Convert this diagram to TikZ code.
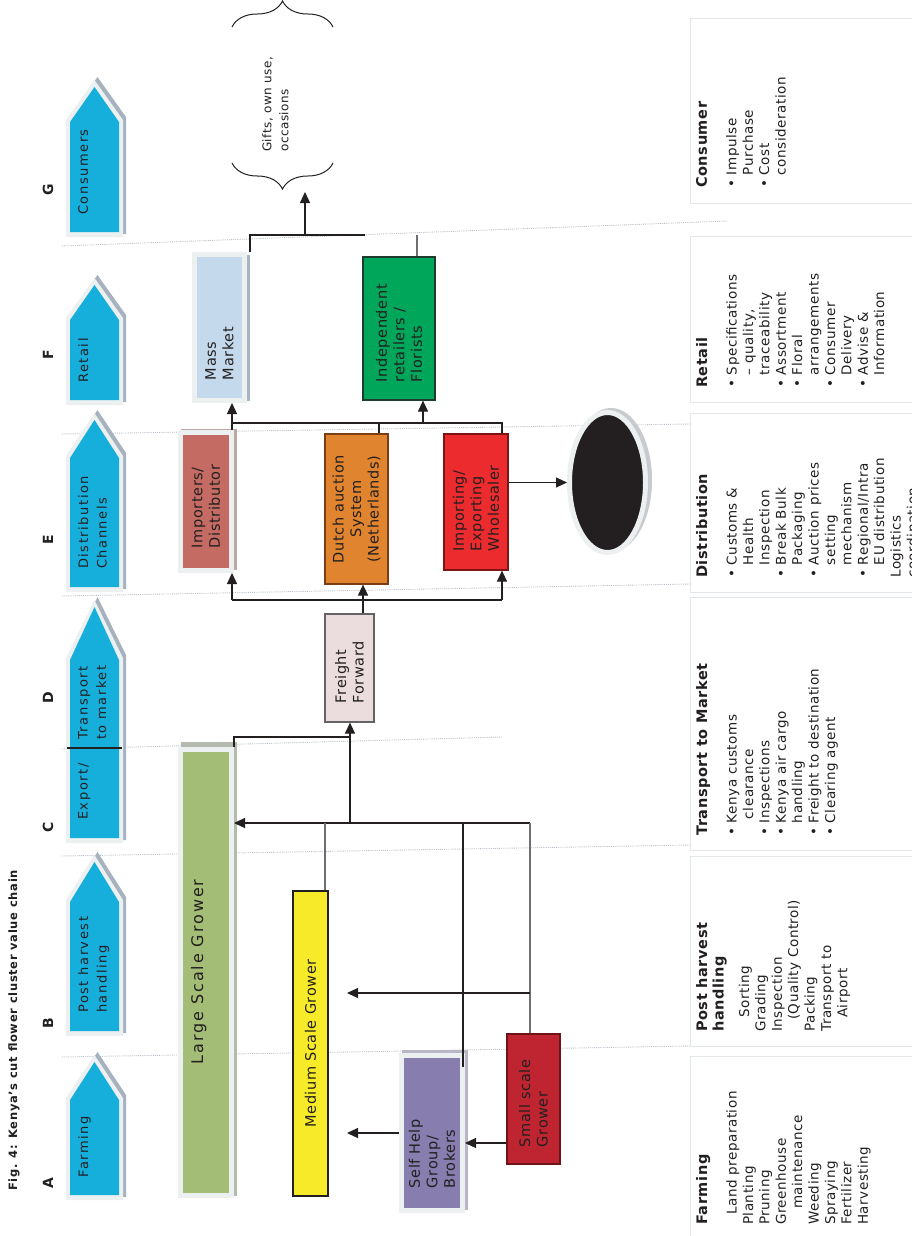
\documentclass[tikz,border=0pt]{standalone}
\usepackage{fontspec}
\setmainfont{DejaVu Sans}
\newfontfamily\boxfont[LetterSpace=4]{DejaVu Sans}
\newfontfamily\growerfont[LetterSpace=12]{DejaVu Sans}
\newfontfamily\stagefont[LetterSpace=12]{DejaVu Sans}
\newfontfamily\sidefont[LetterSpace=4]{DejaVu Sans}
\newfontfamily\titlefont[LetterSpace=6]{DejaVu Sans}
\usetikzlibrary{arrows.meta,shapes.geometric,decorations.pathreplacing}

\definecolor{ink}{RGB}{35,31,32}
\definecolor{stageblue}{RGB}{22,174,219}
\definecolor{framepale}{RGB}{236,240,241}
\definecolor{stageshadow}{RGB}{166,178,189}
\definecolor{massblue}{RGB}{196,217,235}
\definecolor{massshadow}{RGB}{168,180,192}
\definecolor{indgreen}{RGB}{0,166,90}
\definecolor{indline}{RGB}{30,60,45}
\definecolor{improse}{RGB}{196,107,99}
\definecolor{impshadow}{RGB}{190,168,164}
\definecolor{dutchorange}{RGB}{224,132,47}
\definecolor{dutchline}{RGB}{122,62,18}
\definecolor{wholered}{RGB}{236,43,46}
\definecolor{wholeline}{RGB}{125,20,22}
\definecolor{freightpink}{RGB}{235,221,222}
\definecolor{freightline}{RGB}{100,100,102}
\definecolor{largegreen}{RGB}{163,189,119}
\definecolor{largeshadow}{RGB}{180,186,175}
\definecolor{medyellow}{RGB}{247,235,41}
\definecolor{selfpurple}{RGB}{135,125,174}
\definecolor{selfshadow}{RGB}{185,183,198}
\definecolor{smallred}{RGB}{190,37,48}
\definecolor{smallline}{RGB}{110,20,25}
\definecolor{ringshadow}{RGB}{200,202,205}
\definecolor{sepgray}{RGB}{185,191,199}
\definecolor{sideline}{RGB}{226,232,233}
\definecolor{linegray}{RGB}{109,110,113}

\tikzset{
  boxtext/.style={rotate=90, font=\boxfont\fontsize{14.5}{17.5}\selectfont, text=ink, inner sep=0pt},
  palebox/.style={boxtext, draw=framepale, line width=5pt},
  ruled/.style={boxtext, draw=#1, line width=1.2pt},
  stagetext/.style={rotate=90, anchor=north west, align=left, inner sep=0pt,
    font=\stagefont\fontsize{13}{18.5}\selectfont, text=ink},
  letter/.style={rotate=90, inner sep=0pt, font=\bfseries\fontsize{14}{16}\selectfont, text=ink},
  sidetext/.style={rotate=90, anchor=north west, align=left, inner sep=0pt,
    font=\sidefont\fontsize{13.5}{16.4}\selectfont, text=ink},
  sidebox/.style={draw=sideline, line width=0.8pt, fill=white},
  divider/.style={densely dotted, draw=sepgray, line width=0.9pt},
  link/.style={draw=ink, line width=1.1pt},
  graylink/.style={draw=linegray, line width=1.4pt},
  arr/.style={link, -{Triangle[length=11pt,width=10pt]}},
  curly/.style={decorate, decoration={brace, amplitude=26pt}, draw=ink, line width=1pt},
}
\newcommand{\head}[1]{{\bfseries\fontsize{14.5}{16.4}\selectfont #1}}

\begin{document}
\begin{tikzpicture}[x=1pt,y=-1pt]
  \useasboundingbox (0,0) rectangle (912,1236);

  % dotted stage dividers
  \draw[divider] (62,246) -- (728,221);
  \draw[divider] (62,434) -- (690,424);
  \draw[divider] (62,596) -- (690,584);
  \draw[divider] (62,749) -- (502,737);
  \draw[divider] (62,856) -- (690,845);
  \draw[divider] (62,1057) -- (690,1046);

  % title
  \node[rotate=90, anchor=west, inner sep=0pt, font=\titlefont\bfseries\fontsize{11.5}{13}\selectfont, text=ink]
    (title) at (14,1191) {Fig. 4: Kenya’s cut flower cluster value chain};

  % stage arrows: base / shoulder / apex
  \foreach \b/\s/\a in {1195/1100/1062, 1031/902/862, 838/660/607, 587/458/420, 400/320/285, 232/122/87} {
    \fill[stageshadow] (69,\b+2) -- (69,\s-5) -- (97.5,\a-10) -- (126,\s-5) -- (126,\b+2) -- cycle;
    \fill[framepale] (66,\b+5) -- (66,\s-2) -- (94.5,\a-7) -- (123,\s-2) -- (123,\b+5) -- cycle;
    \fill[stageblue] (70,\b) -- (70,\s) -- (94.5,\a) -- (119,\s) -- (119,\b) -- cycle;
  }
  \draw[link] (67,748) -- (122,748);

  % stage letters
  \foreach \l/\y in {A/1183, B/1023, C/827, D/698, E/540, F/355, G/190}
    \node[letter] (stage\l) at (48,\y) {\l};

  % stage labels
  \node[stagetext] (farming) at (78,1178) {Farming};
  \node[stagetext] (postharvest) at (78,1013) {Post harvest\\handling};
  \node[stagetext] (export) at (78,820) {Export/};
  \node[stagetext] (transport) at (78,740) {Transport\\to market};
  \node[stagetext] (distribution) at (78,569) {Distribution\\Channels};
  \node[stagetext] (retail) at (78,383) {Retail};
  \node[stagetext] (consumers) at (78,215) {Consumers};

  % shadows behind framed boxes
  \fill[massshadow] (196,255) rectangle (250,401);
  \fill[impshadow] (181,429) rectangle (237,570);
  \fill[largeshadow] (181,742) rectangle (237,1196);
  \fill[selfshadow] (402,1050) rectangle (468,1210);
  \fill[ringshadow] (611,480) ellipse [x radius=41pt, y radius=72pt];

  % retail
  \node[palebox, fill=massblue, minimum width=146pt, minimum height=50pt,
    text width=105pt, inner xsep=20.5pt, align=left] (mass) at (219.5,327.5) {Mass\\Market};
  \node[ruled=indline, fill=indgreen, minimum width=143pt, minimum height=72pt,
    text width=107pt, inner xsep=18pt, align=left] (indep) at (399,328.5) {Independent\\retailers~/\\Florists};

  % distribution
  \node[palebox, fill=improse, minimum width=138pt, minimum height=51pt,
    text width=93pt, inner xsep=22.5pt, align=left] (imp) at (206,501.5) {Importers/\\Distributor};
  \node[ruled=dutchline, fill=dutchorange, minimum width=150pt, minimum height=63pt,
    align=center] (dutch) at (356.5,509) {Dutch auction\\System\\(Netherlands)};
  \node[ruled=wholeline, fill=wholered, minimum width=136pt, minimum height=64pt,
    text width=98pt, inner xsep=19pt, align=left] (whole) at (476,502) {Importing/\\Exporting\\Wholesaler};
  \node[ellipse, fill=ink, draw=framepale, line width=5pt, minimum width=76pt,
    minimum height=140pt, inner sep=0pt] (sink) at (607.5,482.5) {};

  % transport
  \node[ruled=freightline, fill=freightpink, minimum width=108pt, minimum height=49pt,
    text width=70pt, inner xsep=19pt, align=left] (freight) at (349.5,668) {Freight\\Forward};

  % growers
  \node[palebox, fill=largegreen, minimum width=446pt, minimum height=51pt, text height=11pt, text depth=17pt,
    font=\growerfont\fontsize{16}{18}\selectfont] (large) at (206,972) {Large Scale Grower};
  \node[ruled=ink, fill=medyellow, minimum width=305pt, minimum height=35pt] (medium) at (310.5,1043.5) {Medium Scale Grower};
  \node[palebox, fill=selfpurple, minimum width=155pt, minimum height=61pt,
    text width=110pt, inner xsep=22.5pt, align=left] (selfhelp) at (432,1133) {Self Help\\Group/\\Brokers};
  \node[ruled=smallline, fill=smallred, minimum width=130pt, minimum height=53pt,
    text width=96pt, inner xsep=17pt, align=left] (small) at (533.5,1099) {Small~scale\\Grower};

  % consumer uses
  \draw[curly] (232,27) -- (333,27);
  \draw[curly] (333,163) -- (232,163);
  \node[boxtext, font=\boxfont\fontsize{12}{17}\selectfont, anchor=north west, align=left]
    (uses) at (262,152) {Gifts, own use,\\occasions};

  % links retail to consumer
  \coordinate (g0) at (250,235);
  \coordinate (g1) at (305,235);
  \coordinate (g2) at (365,235);
  \coordinate (g3) at (417,235);
  \coordinate (gtip) at (305,192);
  \draw[link] (g0 |- mass.east) -- (g0) -- (g2);
  \draw[graylink] (g3 |- indep.east) -- (g3);
  \draw[arr] (g1) -- (gtip);

  % links distribution to retail
  \coordinate (r1) at (232,423);
  \coordinate (r2) at (379,423);
  \coordinate (r3) at (423,423);
  \coordinate (r4) at (502,423);
  \draw[link] (r1 |- imp.east) -- (r1) -- (r4) -- (r4 |- whole.east);
  \draw[link] (r2) -- (r2 |- dutch.east);
  \draw[arr] (r1) -- (r1 |- mass.west);
  \draw[arr] (r3) -- (r3 |- indep.west);

  % links transport to distribution
  \coordinate (d1) at (232,600);
  \coordinate (d2) at (363,600);
  \coordinate (d3) at (502,600);
  \draw[link] (d1) -- (d3);
  \draw[arr] (d1) -- (d1 |- imp.west);
  \draw[arr] (d3) -- (d3 |- whole.west);
  \draw[arr] (freight.east -| d2) -- (dutch.west -| d2);
  \draw[arr] (whole.south |- sink.west) -- (sink.west);

  % links growers to freight
  \coordinate (e1) at (350,737);
  \coordinate (e2) at (350,823);
  \draw[link] (large.south east) |- (e1);
  \draw[arr] (e2) -- (e2 |- freight.west);

  % links between growers
  \coordinate (c0) at (530,823);
  \coordinate (c1) at (325,823);
  \coordinate (c2) at (463,823);
  \coordinate (c3) at (530,993);
  \coordinate (m1) at (347,993);
  \coordinate (m2) at (347,1133);
  \coordinate (shend) at (463,1067);
  \coordinate (lvl) at (0,1143);
  \draw[arr] (c0) -- (c0 -| large.south);
  \draw[graylink] (small.east -| c0) -- (c0);
  \draw[graylink] (medium.east -| c1) -- (c1);
  \draw[link] (c2) -- (shend);
  \draw[arr] (c3) -- (m1);
  \draw[arr] (selfhelp.north |- m2) -- (m2);
  \draw[arr] (small.north |- lvl) -- (selfhelp.south |- lvl);

  % activity boxes
  \draw[sidebox] (690,18) rectangle (918,203);
  \draw[sidebox] (690,236) rectangle (918,402);
  \draw[sidebox] (690,413) rectangle (918,592);
  \draw[sidebox] (690,597) rectangle (918,850);
  \draw[sidebox] (690,856) rectangle (918,1046);
  \draw[sidebox] (690,1056) rectangle (918,1240);

  \node[sidetext] (consumerlist) at (696,188) {\head{Consumer}\\[13pt]
    • Impulse\\ \hphantom{• }Purchase\\ • Cost\\ \hphantom{• }consideration};
  \node[sidetext] (retaillist) at (696,388) {\head{Retail}\\[13pt]
    • Specifications\\ \hphantom{• }– quality,\\ \hphantom{• }traceability\\ • Assortment\\
    • Floral\\ \hphantom{• }arrangements\\ • Consumer\\ \hphantom{• }Delivery\\
    • Advise \&\\ \hphantom{• }Information};
  \node[sidetext] (distlist) at (696,578) {\head{Distribution}\\[13pt]
    • Customs \&\\ \hphantom{• }Health\\ \hphantom{• }Inspection\\ • Break Bulk\\
    \hphantom{• }Packaging\\ • Auction prices\\ \hphantom{• }setting\\ \hphantom{• }mechanism\\
    • Regional/Intra\\ \hphantom{• }EU distribution\\ Logistics\\ coordination};
  \node[sidetext] (translist) at (696,836) {\head{Transport to Market}\\[13pt]
    • Kenya customs\\ \hphantom{• }\hspace{4pt}clearance\\ • Inspections\\ • Kenya air cargo\\
    \hphantom{• }handling\\ • Freight to destination\\ • Clearing agent};
  \node[sidetext] (postlist) at (696,1032) {\head{Post harvest}\\ \head{handling}\\[9pt]
    \hspace*{14pt}Sorting\\ Grading\\ Inspection\\ \hspace*{12pt}(Quality Control)\\
    Packing\\ Transport to\\ \hspace*{14pt}Airport};
  \node[sidetext] (farmlist) at (696,1225) {\head{Farming}\\[13pt]
    \hspace*{10pt}Land preparation\\ Planting\\ Pruning\\ Greenhouse\\
    \hspace*{16pt}maintenance\\ Weeding\\ Spraying\\ Fertilizer\\ Harvesting};
\end{tikzpicture}
\end{document}
